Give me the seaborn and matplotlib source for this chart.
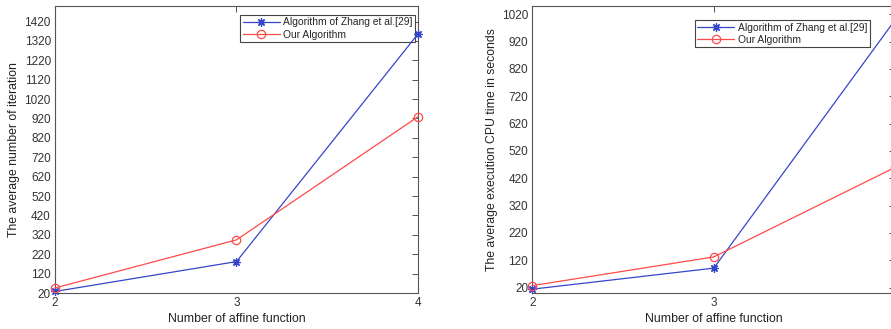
import pandas as pd
import matplotlib.pyplot as plt
import seaborn as sns

# values
n_affine = [2, 3, 4]
zhang_iter = [28, 182, 1356]
ours_iter = [46, 294, 929]
zhang_cpu = [14, 91, 1000]
ours_cpu = [27, 132, 460]

series = ["Algorithm of Zhang et al.[29]", "Our Algorithm"]
colors = {series[0]: "#3646c8", series[1]: "#ff4a4a"}
line_markers = {series[0]: (8, 2, 0), series[1]: "o"}

iter_ticks = list(range(20, 1421, 100))
cpu_ticks = list(range(20, 1021, 100))


def long_df(a, b):
    return pd.DataFrame({
        "n": n_affine * 2,
        "value": a + b,
        "series": [series[0]] * 3 + [series[1]] * 3,
    })


sns.set_style("white")
plt.rcParams["font.family"] = ["Liberation Sans", "DejaVu Sans"]

fig = plt.figure(figsize=(8.91, 3.29), dpi=100)
ax1 = fig.add_axes([0.0617, 0.1094, 0.4074, 0.8723])
ax2 = fig.add_axes([0.5974, 0.1094, 0.4074, 0.8723])

panels = [
    (ax1, long_df(zhang_iter, ours_iter), "The average number of iteration",
     iter_ticks, (20, 1500), (0.51, 0.969)),
    (ax2, long_df(zhang_cpu, ours_cpu), "The average execution CPU time in seconds",
     cpu_ticks, (0, 1050), (0.448, 0.951)),
]

for ax, df, ylab, yt, ylim, leg_pos in panels:
    sns.lineplot(data=df, x="n", y="value", hue="series", palette=colors,
                 marker="o", legend=False, linewidth=0.9, markersize=6, ax=ax)
    for line, name in zip(ax.lines, series):
        line.set_marker(line_markers[name])
        line.set_markerfacecolor("none")
        line.set_markeredgecolor(colors[name])
        line.set_markeredgewidth(0.9)
        line.set_label(name)
        line.set_clip_on(False)
        line.set_zorder(5)
    ax.set_xlim(2, 4)
    ax.set_ylim(*ylim)
    ax.set_xticks(n_affine)
    ax.set_yticks(yt)
    ax.set_xlabel("Number of affine function", fontsize=8.8, color="#222222", labelpad=3)
    ax.set_ylabel(ylab, fontsize=8.8, color="#222222", labelpad=3)
    ax.tick_params(direction="in", length=4, width=0.6, top=True, right=True,
                   labelsize=8.5, colors="#333333", pad=3)
    for sp in ax.spines.values():
        sp.set_color("#555555")
        sp.set_linewidth(0.8)
    leg = ax.legend(handles=ax.lines, labels=series, loc="upper left",
                    bbox_to_anchor=leg_pos, borderaxespad=0, fancybox=False,
                    framealpha=1, edgecolor="#444444", fontsize=7.4,
                    handlelength=3.6, handletextpad=0.3, borderpad=0.25,
                    labelspacing=0.2)
    leg.get_frame().set_linewidth(0.8)
    leg.set_zorder(4)

# the right panel runs past the picture's edge, so its "4" label is not seen
ax2.set_xticklabels(["2", "3", ""])

fig.savefig("out.png", dpi=100)
